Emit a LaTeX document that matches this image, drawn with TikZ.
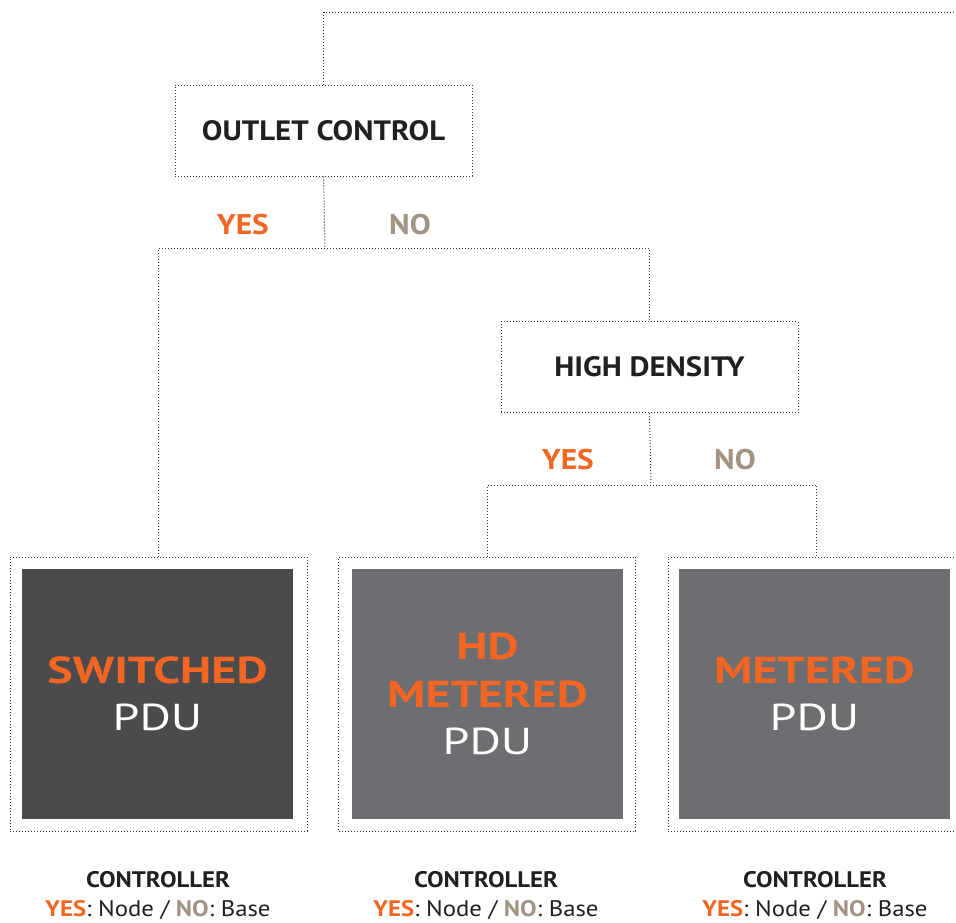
\documentclass[tikz,border=0pt]{standalone}
\usepackage{fontspec}
\setmainfont[FakeStretch=1.1]{PT Sans}
\newfontfamily\boxfont[FakeStretch=1.28]{PT Sans}
\definecolor{pduorange}{HTML}{F26522}
\definecolor{notan}{HTML}{A39382}
\definecolor{darkpdu}{HTML}{4B4B4D}
\definecolor{greypdu}{HTML}{6D6E71}
\definecolor{inkblack}{HTML}{231F20}
\tikzset{
  dotline/.style={line width=1pt, dash pattern=on 1pt off 2pt, draw=black!80},
  question/.style={dotline, minimum width=297pt, minimum height=91pt, inner sep=0pt,
    font=\bfseries\fontsize{28}{28}\selectfont, text=inkblack},
  answer/.style={font=\bfseries\fontsize{28.5}{28}\selectfont, inner sep=0pt},
  frame/.style={dotline, minimum width=297pt, minimum height=274pt, inner sep=0pt},
  pdubox/.style={minimum width=271pt, minimum height=250pt, inner sep=0pt, align=center,
    text=white, font=\boxfont\fontsize{37.5}{47.5}\selectfont},
  ctrl/.style={align=center, text=inkblack, font=\fontsize{22.5}{29}\selectfont, inner sep=0pt}
}
\newcommand{\hl}[1]{{\color{pduorange}\bfseries #1}}
\newcommand{\ctrltext}{\textbf{CONTROLLER}\\\hl{YES}: Node / {\color{notan}\bfseries NO}: Base}
\begin{document}
\begin{tikzpicture}[x=1pt,y=-1pt]
\useasboundingbox (0,0) rectangle (956,922);
% questions
\node[question] (outlet) at (323.5,130.5) {OUTLET CONTROL};
\node[question] (density) at (649.5,367) {HIGH DENSITY};
% outcomes
\node[frame] (sw) at (158.5,694) {};
\node[frame] (hd) at (487,694) {};
\node[frame] (me) at (816.5,694) {};
\node[pdubox, fill=darkpdu] (sw-in) at (157.5,694) {\hl{SWITCHED}\\PDU};
\node[pdubox, fill=greypdu] (hd-in) at (487.5,694) {\hl{HD}\\\hl{METERED}\\PDU};
\node[pdubox, fill=greypdu] (me-in) at (814.5,694) {\hl{METERED}\\PDU};
\node[ctrl] (sw-ctrl) at (158,896) {\ctrltext};
\node[ctrl] (hd-ctrl) at (486,896) {\ctrltext};
\node[ctrl] (me-ctrl) at (815,896) {\ctrltext};
% connectors
\coordinate (top-r) at (960,12);
\coordinate (split1) at (325,248);
\coordinate (split2) at (651,485);
\draw[dotline] (top-r) -| (outlet.north);
\draw[dotline] (outlet.south) -- (split1);
\draw[dotline] (sw.north) |- (split1) -| (density.north);
\draw[dotline] (density.south) -- (split2);
\draw[dotline] (hd.north) |- (split2) -| (me.north);
% answers
\node[answer, text=pduorange] (yes1) at (243,225) {YES};
\node[answer, text=notan] (no1) at (410,225) {NO};
\node[answer, text=pduorange] (yes2) at (568,460) {YES};
\node[answer, text=notan] (no2) at (735,460) {NO};
\end{tikzpicture}
\end{document}
